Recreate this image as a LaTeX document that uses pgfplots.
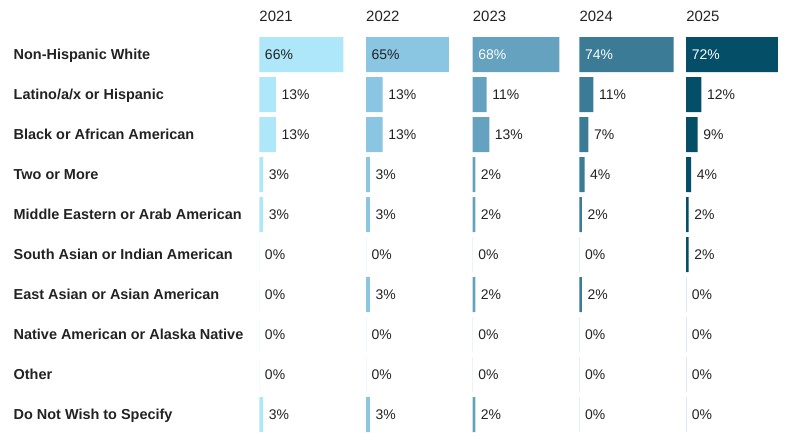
\documentclass[border=0pt]{standalone}
\usepackage{pgfplots}
\pgfplotsset{compat=1.18}
\usepackage{pgfplotstable}
\usepackage{fontspec}
\setmainfont{Liberation Sans}

\definecolor{c2021}{HTML}{ADE7F9}
\definecolor{c2022}{HTML}{8AC5E2}
\definecolor{c2023}{HTML}{65A2BF}
\definecolor{c2024}{HTML}{3B7B95}
\definecolor{c2025}{HTML}{044F67}
\definecolor{txt}{HTML}{222222}

% share of respondents, rows top to bottom
\pgfplotstableread{
row y2021 y2022 y2023 y2024 y2025
0   66    65    68    74    72
1   13    13    11    11    12
2   13    13    13    7     9
3   3     3     2     4     4
4   3     3     2     2     2
5   0     0     0     0     2
6   0     3     2     2     0
7   0     0     0     0     0
8   0     0     0     0     0
9   3     3     2     0     0
}\data

\pgfplotsset{
  panel/.style={
    scale only axis, width=106.7bp, height=400bp,
    xmin=0, xmax=83.7, ymin=-0.5, ymax=9.5, y dir=reverse,
    axis line style={draw=none}, xtick=\empty, ytick=\empty,
    major tick length=0pt, clip=false, anchor=north west,
    /pgf/number format/assume math mode=true,
    title style={at={(0,1)}, anchor=base west, inner sep=0pt, yshift=7.5bp,
      font=\fontsize{15}{15}\selectfont, text=txt},
  },
  vals/.style={draw=none, nodes near coords={\pgfmathprintnumber{\pgfplotspointmeta}\%},
    nodes near coords style={anchor=base west, inner sep=0pt, xshift=5.5bp, yshift=-4.8bp,
      font=\fontsize{14}{14}\selectfont, text=#1}},
}

\newcommand\yearpanel[5]{%
  \begin{axis}[panel, at={(#1*106.7bp,0)}, title={#2}]
    \addplot[xbar, bar width=35bp, fill=#4, draw=none] table[x=#3, y=row] {\data};
    \addplot[vals=txt, point meta=x, restrict y to domain=0.5:9.5] table[x=#3, y=row] {\data};
    \addplot[vals=#5, point meta=explicit, restrict y to domain=-0.5:0.5] table[x expr=0, y=row, meta=#3] {\data};
  \end{axis}}

\begin{document}
\begin{tikzpicture}
\useasboundingbox (-259.3bp,34.5bp) rectangle (540.7bp,-410.5bp);
\begin{axis}[panel, at={(0,0)}, title={2021},
    ytick={0,...,9},
    yticklabels={Non-Hispanic White, Latino/a/x or Hispanic, Black or African American,
      Two or More, Middle Eastern or Arab American, South Asian or Indian American,
      East Asian or Asian American, Native American or Alaska Native, Other,
      Do Not Wish to Specify},
    yticklabel style={anchor=base west, inner sep=0pt, xshift=-245.8bp, yshift=-4.8bp,
      font=\fontsize{14.5}{14.5}\selectfont\bfseries, text=txt}]
  \addplot[xbar, bar width=35bp, fill=c2021, draw=none] table[x=y2021, y=row] {\data};
  \addplot[vals=txt, point meta=x, restrict y to domain=0.5:9.5] table[x=y2021, y=row] {\data};
  \addplot[vals=txt, point meta=explicit, restrict y to domain=-0.5:0.5] table[x expr=0, y=row, meta=y2021] {\data};
\end{axis}
\yearpanel{1}{2022}{y2022}{c2022}{txt}
\yearpanel{2}{2023}{y2023}{c2023}{white}
\yearpanel{3}{2024}{y2024}{c2024}{white}
\yearpanel{4}{2025}{y2025}{c2025}{white}
\end{tikzpicture}
\end{document}
